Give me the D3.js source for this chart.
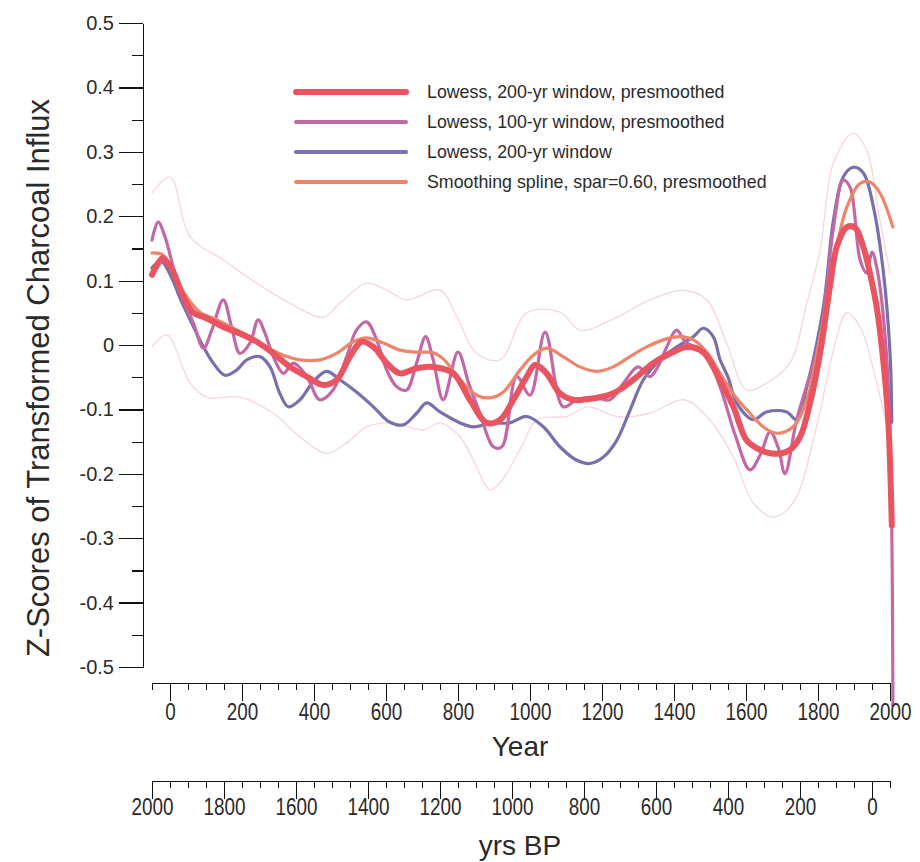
<!DOCTYPE html>
<html>
<head>
<meta charset="utf-8">
<script src="https://cdn.jsdelivr.net/npm/d3@7"></script>
<style>
  html, body { margin: 0; padding: 0; background: #fff; }
  svg { display: block; font-family: "Liberation Sans", Arial, Helvetica, sans-serif; }
  .axis path, .axis line { stroke: #111; stroke-width: 1.2; shape-rendering: crispEdges; }
  .axis text { fill: #2a2a2a; }
</style>
</head>
<body>
<svg id="chart" width="920" height="862"></svg>
<script>
// ---- Z-scores of transformed charcoal influx, four smoothers plus a band ----

// Lowess, 200-yr window, presmoothed
const lowess200PreYears  = [-50, -35, -20, 0, 10, 37, 65, 100, 148, 194, 241, 287, 333, 380, 426, 463, 500, 532, 565, 602, 639, 685, 731, 787, 833, 880, 917, 954, 991, 1014, 1046, 1083, 1120, 1176, 1231, 1287, 1343, 1398, 1435, 1481, 1528, 1565, 1602, 1640, 1667, 1700, 1722, 1750, 1778, 1806, 1833, 1852, 1880, 1903, 1926, 1944, 1963, 1981, 1995, 2005];
const lowess200PreValues = [0.109, 0.125, 0.135, 0.122, 0.113, 0.075, 0.05, 0.042, 0.028, 0.018, 0.005, -0.013, -0.034, -0.049, -0.062, -0.054, -0.018, 0.005, -0.003, -0.028, -0.044, -0.036, -0.034, -0.044, -0.085, -0.121, -0.116, -0.085, -0.049, -0.031, -0.044, -0.075, -0.085, -0.083, -0.075, -0.054, -0.028, -0.011, -0.003, -0.011, -0.055, -0.096, -0.148, -0.163, -0.168, -0.168, -0.163, -0.143, -0.09, -0.012, 0.09, 0.152, 0.183, 0.182, 0.152, 0.112, 0.059, -0.023, -0.116, -0.28];

// Lowess, 100-yr window, presmoothed
const lowess100PreYears  = [-50, -33, -14, 9, 37, 65, 93, 116, 148, 171, 194, 222, 245, 264, 287, 315, 343, 380, 416, 453, 491, 518, 546, 574, 602, 630, 657, 685, 710, 731, 759, 800, 830, 861, 898, 922, 963, 1000, 1042, 1092, 1130, 1176, 1222, 1260, 1300, 1333, 1355, 1380, 1407, 1435, 1481, 1528, 1570, 1611, 1640, 1667, 1690, 1708, 1741, 1806, 1842, 1870, 1889, 1917, 1935, 1950, 1963, 1990, 2003, 2008];
const lowess100PreValues = [0.163, 0.191, 0.168, 0.121, 0.07, 0.034, -0.005, 0.023, 0.07, 0.028, -0.013, 0.003, 0.039, 0.018, -0.018, -0.044, -0.028, -0.049, -0.085, -0.07, -0.018, 0.023, 0.036, 0.008, -0.039, -0.065, -0.07, -0.028, 0.013, -0.023, -0.085, -0.011, -0.06, -0.106, -0.158, -0.158, -0.049, -0.078, 0.02, -0.096, -0.085, -0.081, -0.085, -0.059, -0.034, -0.049, -0.034, -0.003, 0.023, 0.003, -0.008, -0.065, -0.14, -0.194, -0.17, -0.135, -0.16, -0.2, -0.116, 0.013, 0.178, 0.256, 0.245, 0.132, 0.112, 0.144, 0.121, -0.012, -0.22, -0.56];

// Lowess, 200-yr window
const lowess200Years  = [-50, -25, 0, 30, 56, 93, 120, 153, 185, 213, 250, 278, 305, 329, 361, 398, 435, 472, 518, 565, 611, 648, 685, 713, 750, 806, 843, 898, 944, 991, 1037, 1083, 1130, 1167, 1204, 1241, 1278, 1315, 1361, 1407, 1454, 1481, 1509, 1528, 1550, 1574, 1620, 1657, 1713, 1741, 1769, 1815, 1843, 1870, 1898, 1926, 1954, 1981, 2000, 2005];
const lowess200Values = [0.12, 0.13, 0.11, 0.07, 0.039, -0.003, -0.028, -0.047, -0.039, -0.023, -0.018, -0.034, -0.075, -0.096, -0.085, -0.057, -0.041, -0.054, -0.073, -0.096, -0.12, -0.124, -0.106, -0.09, -0.104, -0.121, -0.127, -0.121, -0.121, -0.111, -0.127, -0.158, -0.179, -0.184, -0.174, -0.148, -0.101, -0.054, -0.023, -0.003, 0.013, 0.026, 0.013, -0.023, -0.05, -0.09, -0.116, -0.104, -0.104, -0.116, -0.065, 0.059, 0.194, 0.261, 0.276, 0.267, 0.214, 0.116, -0.012, -0.12];

// Smoothing spline, spar=0.60, presmoothed
const splineYears  = [-50, -20, 9, 46, 83, 130, 176, 222, 268, 315, 361, 416, 463, 509, 546, 593, 639, 685, 731, 760, 806, 852, 889, 926, 972, 1009, 1046, 1092, 1139, 1185, 1231, 1278, 1324, 1370, 1417, 1454, 1491, 1528, 1570, 1611, 1650, 1685, 1731, 1769, 1806, 1843, 1880, 1917, 1944, 1972, 2008];
const splineValues = [0.143, 0.14, 0.112, 0.075, 0.051, 0.039, 0.026, 0.013, -0.003, -0.016, -0.023, -0.023, -0.013, 0.005, 0.011, 0.003, -0.008, -0.011, -0.012, -0.022, -0.054, -0.078, -0.082, -0.073, -0.039, -0.016, -0.005, -0.018, -0.034, -0.041, -0.034, -0.018, -0.003, 0.008, 0.013, 0.008, -0.011, -0.044, -0.08, -0.106, -0.128, -0.137, -0.127, -0.085, 0.013, 0.127, 0.214, 0.251, 0.253, 0.236, 0.183];

// Upper and lower band around the presmoothed 200-yr lowess
const bandUpperYears  = [-50, 0, 56, 148, 241, 333, 426, 472, 546, 602, 657, 750, 800, 850, 917, 991, 1083, 1139, 1241, 1333, 1426, 1491, 1546, 1602, 1657, 1722, 1769, 1806, 1843, 1898, 1935, 1972, 2000];
const bandUpperValues = [0.236, 0.261, 0.168, 0.132, 0.096, 0.065, 0.043, 0.065, 0.096, 0.085, 0.07, 0.085, 0.04, -0.012, -0.023, 0.05, 0.051, 0.023, 0.043, 0.07, 0.085, 0.07, 0.003, -0.07, -0.059, -0.028, 0.065, 0.147, 0.283, 0.329, 0.303, 0.194, 0.112];
const bandLowerYears  = [-50, -9, 56, 102, 194, 287, 361, 435, 491, 546, 620, 704, 750, 806, 843, 889, 917, 972, 1020, 1102, 1160, 1241, 1333, 1426, 1491, 1565, 1620, 1676, 1731, 1796, 1843, 1880, 1917, 1963, 2000];
const bandLowerValues = [-0.003, 0.016, -0.059, -0.081, -0.081, -0.106, -0.143, -0.168, -0.152, -0.127, -0.121, -0.132, -0.121, -0.143, -0.179, -0.225, -0.214, -0.163, -0.116, -0.111, -0.096, -0.111, -0.106, -0.085, -0.111, -0.174, -0.245, -0.267, -0.245, -0.127, -0.008, 0.05, 0.028, -0.059, -0.15];

// Axis ticks
const yMajorTicks = [-0.5, -0.4, -0.3, -0.2, -0.1, 0, 0.1, 0.2, 0.3, 0.4, 0.5];
const yMinorTicks = [-0.45, -0.35, -0.25, -0.15, -0.05, 0.05, 0.15, 0.25, 0.35, 0.45];
const yearMajorTicks = [0, 200, 400, 600, 800, 1000, 1200, 1400, 1600, 1800, 2000];
const yearMinorTicks = [-50, 50, 100, 150, 250, 300, 350, 450, 500, 550, 650, 700, 750, 850, 900, 950, 1050, 1100, 1150, 1250, 1300, 1350, 1450, 1500, 1550, 1650, 1700, 1750, 1850, 1900, 1950];
const bpMajorTicks = [2000, 1800, 1600, 1400, 1200, 1000, 800, 600, 400, 200, 0];
const bpMinorTicks = [1950, 1900, 1850, 1750, 1700, 1650, 1550, 1500, 1450, 1350, 1300, 1250, 1150, 1100, 1050, 950, 900, 850, 750, 700, 650, 550, 500, 450, 350, 300, 250, 150, 100, 50, -50];

const legendLabels = [
  "Lowess, 200-yr window, presmoothed",
  "Lowess, 100-yr window, presmoothed",
  "Lowess, 200-yr window",
  "Smoothing spline, spar=0.60, presmoothed"
];

const svg = d3.select("#chart");

const x = d3.scaleLinear().domain([-50, 2000]).range([152, 890]);
const bp = d3.scaleLinear().domain([2000, -50]).range([152, 890]);
const y = d3.scaleLinear().domain([-0.5, 0.5]).range([667, 23]);

const zip = (xs, vs) => xs.map((t, i) => [t, vs[i]]);
const line = d3.line().x(d => x(d[0])).y(d => y(d[1])).curve(d3.curveCatmullRom.alpha(0.5));

const series = [
  { key: "upper",  data: zip(bandUpperYears, bandUpperValues),   color: "#f4d8df", width: 1.4 },
  { key: "lower",  data: zip(bandLowerYears, bandLowerValues),   color: "#f4d8df", width: 1.4 },
  { key: "l200",   data: zip(lowess200Years, lowess200Values),   color: "#7770ad", width: 3.2 },
  { key: "l100p",  data: zip(lowess100PreYears, lowess100PreValues), color: "#c268a4", width: 3.2 },
  { key: "spline", data: zip(splineYears, splineValues),         color: "#f0846a", width: 3.2 },
  { key: "l200p",  data: zip(lowess200PreYears, lowess200PreValues), color: "#e8545f", width: 6 }
];

svg.append("g").selectAll("path")
  .data(series).join("path")
  .attr("d", d => line(d.data))
  .attr("fill", "none")
  .attr("stroke", d => d.color)
  .attr("stroke-width", d => d.width)
  .attr("stroke-linejoin", "round")
  .attr("stroke-linecap", "round");

// Y axis
const yFmt = d => d === 0 ? "0" : d3.format(".1f")(d).replace("\u2212", "-");
const yAxisG = svg.append("g").attr("class", "axis").attr("transform", "translate(143,0)");
yAxisG.call(d3.axisLeft(y).tickValues(yMajorTicks).tickSize(24).tickSizeOuter(0).tickPadding(5).tickFormat(yFmt));
yAxisG.append("g").call(d3.axisLeft(y).tickValues(yMinorTicks).tickSize(11).tickSizeOuter(0).tickFormat(""))
  .select(".domain").remove();
yAxisG.selectAll("text").attr("font-size", 20).attr("font-family", "Liberation Sans, Arial, sans-serif");

// Year and BP axes
function bottomAxis(scale, yPos, majors, minors, labelPad) {
  const g = svg.append("g").attr("class", "axis").attr("transform", `translate(0,${yPos})`);
  g.call(d3.axisBottom(scale).tickValues(majors).tickSize(18).tickSizeOuter(0).tickPadding(labelPad).tickFormat(d3.format("d")));
  g.append("g").call(d3.axisBottom(scale).tickValues(minors).tickSize(7).tickSizeOuter(0).tickFormat(""))
    .select(".domain").remove();
  g.selectAll("text")
    .attr("font-size", 23)
    .attr("font-family", "Liberation Sans, Arial, sans-serif")
    .attr("transform", "scale(0.82,1)");
  return g;
}
bottomAxis(x, 683, yearMajorTicks, yearMinorTicks, 3);
bottomAxis(bp, 781, bpMajorTicks, bpMinorTicks, 0);

// Axis titles
svg.append("text").attr("x", 520).attr("y", 756).attr("text-anchor", "middle")
  .attr("font-size", 28).attr("fill", "#2a2a2a").text("Year");
svg.append("text").attr("x", 520).attr("y", 855).attr("text-anchor", "middle")
  .attr("font-size", 28).attr("fill", "#2a2a2a").text("yrs BP");
svg.append("text").attr("transform", "translate(49,378) rotate(-90)").attr("text-anchor", "middle")
  .attr("font-size", 31).attr("fill", "#2a2a2a").text("Z-Scores of Transformed Charcoal Influx");

// Legend
const legendColors = ["#e8545f", "#c268a4", "#7770ad", "#f0846a"];
const legendWidths = [6, 4, 4, 4];
const legend = svg.append("g");
const rows = legend.selectAll("g").data(legendLabels).join("g")
  .attr("transform", (d, i) => `translate(0,${92 + i * 30})`);
rows.append("line").attr("x1", 296).attr("x2", 406).attr("y1", 0).attr("y2", 0)
  .attr("stroke", (d, i) => legendColors[i]).attr("stroke-width", (d, i) => legendWidths[i])
  .attr("stroke-linecap", "round");
rows.append("text").attr("x", 427).attr("y", 6).attr("font-size", 17.8).attr("fill", "#2a2a2a").text(d => d);
</script>
</body>
</html>
